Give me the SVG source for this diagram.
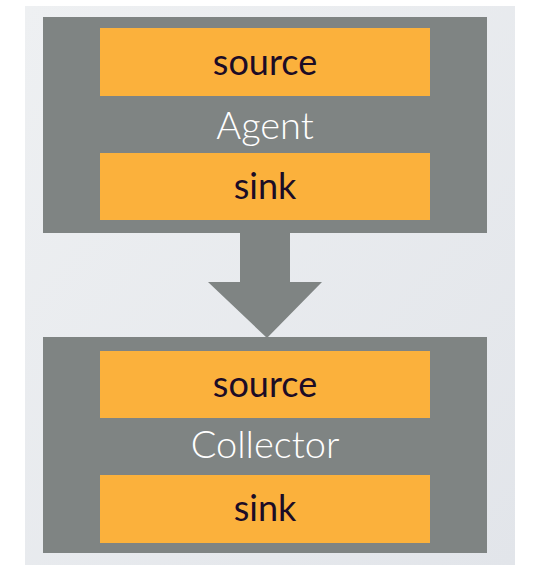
<svg xmlns="http://www.w3.org/2000/svg" width="550" height="576" viewBox="0 0 550 576">
<defs>
<linearGradient id="bg" x1="0" y1="0" x2="1" y2="1">
<stop offset="0" stop-color="#eef0f2"/>
<stop offset="1" stop-color="#e2e5ea"/>
</linearGradient>
<style>
.box{fill:#7f8483}
.comp{fill:#fbb13c}
.lbl{font-family:Lato,"Open Sans",sans-serif;font-size:36px;fill:#1c0c26;text-anchor:middle}
.title{font-family:Lato,"Open Sans",sans-serif;font-weight:300;font-size:38px;fill:#ffffff;text-anchor:middle}
</style>
</defs>
<rect width="550" height="576" fill="#ffffff"/>
<rect x="25" y="6" width="490" height="559" fill="url(#bg)"/>
<g id="agent">
<rect class="box" x="43" y="17" width="444" height="216"/>
<g id="agent-source"><rect class="comp" x="100" y="28" width="330" height="68"/><text class="lbl" x="265" y="75">source</text></g>
<text class="title" x="265" y="139">Agent</text>
<g id="agent-sink"><rect class="comp" x="100" y="153" width="330" height="67"/><text class="lbl" x="265" y="199">sink</text></g>
</g>
<g id="connectors">
<polygon class="box" points="240,232 290,232 290,282 322,282 267,338 208,282 240,282"/>
</g>
<g id="collector">
<rect class="box" x="43" y="337" width="444" height="216"/>
<g id="collector-source"><rect class="comp" x="100" y="351" width="330" height="67"/><text class="lbl" x="265" y="397">source</text></g>
<text class="title" x="265" y="458">Collector</text>
<g id="collector-sink"><rect class="comp" x="100" y="475" width="330" height="68"/><text class="lbl" x="265" y="521">sink</text></g>
</g>
</svg>
